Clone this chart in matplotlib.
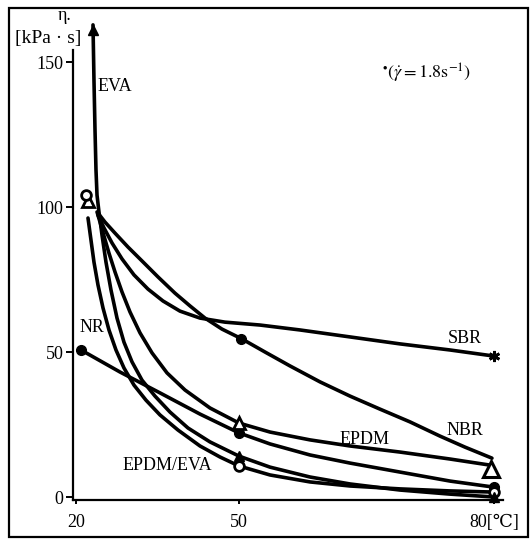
import numpy as np
import matplotlib
matplotlib.use('Agg')
import matplotlib.pyplot as plt
from matplotlib.patches import Rectangle

plt.rcParams['font.family'] = ['Liberation Serif', 'DejaVu Serif', 'Noto Sans CJK JP']
plt.rcParams['mathtext.fontset'] = 'stix'

# temperature [C] / viscosity [kPa s]
eva_T = [23.13, 23.31, 23.50, 23.68, 23.87, 24.23, 24.79, 25.52, 26.44, 27.55, 28.83, 30.31,
         32.15, 34.54, 37.30, 40.61, 44.66, 50.0, 53.65, 58.35, 63.06, 68.94, 74.82, 80.0]
eva_eta = [162.8, 143.8, 126.6, 112.8, 104.1, 98.3, 90.3, 81.0, 71.4, 61.7, 53.4, 46.6,
           40.3, 34.8, 29.3, 23.8, 19.0, 14.1, 10.3, 6.9, 4.5, 2.4, 1.0, 0.0]

epdm_eva_T = [22.21, 22.76, 23.31, 24.05, 24.97, 26.07, 27.36, 28.83, 30.67, 32.88, 35.46, 38.77,
              42.82, 46.50, 50.0, 53.65, 58.35, 63.06, 68.94, 74.82, 80.0]
epdm_eva_eta = [96.2, 88.6, 81.0, 73.1, 65.2, 57.6, 50.7, 44.5, 38.6, 33.4, 28.3, 23.1,
                17.6, 13.8, 10.7, 7.6, 5.2, 3.8, 2.8, 2.1, 1.7]

epdm_T = [23.87, 24.42, 25.15, 26.07, 27.18, 28.47, 29.94, 31.78, 33.99, 36.75, 40.06, 44.66,
          50.0, 53.65, 58.35, 63.06, 68.94, 74.82, 79.53]
epdm_eta = [98.3, 94.8, 90.0, 84.1, 77.6, 70.7, 63.8, 56.6, 49.7, 42.8, 36.9, 30.7,
            25.5, 22.4, 19.7, 17.6, 15.5, 13.1, 11.0]

nr_T = [20.92, 28.10, 35.46, 42.82, 50.0, 53.65, 58.35, 63.06, 68.94, 74.82, 80.0]
nr_eta = [50.7, 43.1, 35.9, 28.6, 22.1, 18.3, 14.5, 11.7, 8.6, 5.5, 3.4]

nbr_T = [24.05, 25.34, 27.18, 29.57, 32.15, 35.09, 38.22, 40.98, 43.74, 46.87, 50.35, 53.06,
         56.0, 59.53, 63.06, 66.59, 70.12, 73.65, 76.59, 79.76]
nbr_eta = [97.9, 94.8, 91.0, 86.2, 81.4, 75.9, 70.3, 65.9, 61.7, 57.9, 54.5, 50.0,
           45.2, 39.7, 34.8, 30.3, 25.9, 21.0, 17.2, 13.4]

sbr_T = [24.05, 25.15, 26.63, 28.47, 30.67, 33.25, 36.01, 39.14, 42.82, 47.42, 52.47, 57.18,
         63.06, 68.94, 74.82, 80.0]
sbr_eta = [97.2, 92.8, 87.6, 82.1, 76.6, 71.7, 67.6, 64.1, 61.7, 60.3, 59.3, 57.6,
           55.2, 52.8, 50.7, 48.6]

# measured points (markers)
nr_pts_T = [20.92, 50.0, 80.0]
nr_pts_eta = [50.7, 22.1, 3.4]
nbr_pts_T = [50.2]
nbr_pts_eta = [54.6]
epdm_pts_T = [22.2, 50.0]
epdm_pts_eta = [102.0, 25.5]
epdm_end_T = [79.6]
epdm_end_eta = [9.5]
epdm_eva_pts_T = [21.9, 50.0, 80.0]
epdm_eva_pts_eta = [104.0, 10.7, 1.7]
eva_pts_T = [50.0, 80.0]
eva_pts_eta = [14.1, 0.0]
sbr_pts_T = [80.0]
sbr_pts_eta = [48.6]
eva_arrow_T = [23.13]
eva_arrow_eta = [161.0]


def fwd(t):
    t = np.asarray(t, float)
    return np.where(t <= 50, (t - 20) * 163 / 30, 163 + (t - 50) * 255 / 30)


def inv(p):
    p = np.asarray(p, float)
    return np.where(p <= 163, 20 + p * 30 / 163, 50 + (p - 163) * 30 / 255)


fig = plt.figure(figsize=(5.31, 5.47), dpi=100)
ax = fig.add_axes([73 / 531, 47 / 547, 430 / 531, 481.5 / 547])
ax.set_xscale('function', functions=(fwd, inv))

lw = 2.6
kw = dict(color='black', lw=lw, solid_capstyle='round', solid_joinstyle='round')
ax.plot(eva_T, eva_eta, **kw)
ax.plot(epdm_eva_T, epdm_eva_eta, **kw)
ax.plot(epdm_T, epdm_eta, **kw)
ax.plot(nr_T, nr_eta, **kw)
ax.plot(nbr_T, nbr_eta, **kw)
ax.plot(sbr_T, sbr_eta, **kw)

ax.plot(nr_pts_T, nr_pts_eta, 'o', color='black', ms=7)
ax.plot(nbr_pts_T, nbr_pts_eta, 'o', color='black', ms=7)
ax.plot(epdm_pts_T, epdm_pts_eta, '^', mfc='white', mec='black', mew=2, ms=9)
ax.plot(epdm_end_T, epdm_end_eta, '^', mfc='white', mec='black', mew=2.2, ms=12)
ax.plot(epdm_eva_pts_T, epdm_eva_pts_eta, 'o', mfc='white', mec='black', mew=2, ms=7)
ax.plot(eva_pts_T, eva_pts_eta, '^', color='black', ms=7, clip_on=False)
ax.plot(sbr_pts_T, sbr_pts_eta, marker=(6, 2, 0), color='black', ms=8, mew=2)
ax.plot(eva_arrow_T, eva_arrow_eta, '^', color='black', ms=7, clip_on=False)

ax.set_xlim(19.45, 81.06)
ax.set_ylim(-1.03, 165)

for s in ['top', 'right']:
    ax.spines[s].set_visible(False)
ax.spines['left'].set_bounds(-1.03, 154)
ax.spines['left'].set_linewidth(1.6)
ax.spines['bottom'].set_linewidth(1.6)

ax.set_yticks([0, 50, 100, 150])
ax.set_yticklabels(['0', '50', '100', '150'])
ax.set_xticks([20, 50, 80])
ax.set_xticklabels(['20', '50', '80[℃]'])
ax.xaxis.set_minor_locator(matplotlib.ticker.NullLocator())
ax.tick_params(axis='y', direction='out', length=5, width=1.4, pad=2, labelsize=13)
ax.tick_params(axis='x', direction='out', length=3, width=1.4, pad=7, labelsize=13)

ax.text(27.18, 141.4, 'EVA', fontsize=13, ha='center', va='center')
ax.text(22.94, 58.6, 'NR', fontsize=13, ha='center', va='center')
ax.text(76.6, 54.5, 'SBR', fontsize=13, ha='center', va='center')
ax.text(76.6, 22.8, 'NBR', fontsize=13, ha='center', va='center')
ax.text(64.8, 20.0, 'EPDM', fontsize=13, ha='center', va='center')
ax.text(36.75, 11.0, 'EPDM/EVA', fontsize=13, ha='center', va='center')
ax.text(72.1, 145.9, r'$^{\bullet}(\dot{\gamma}=1.8\mathrm{s}^{-1})$', fontsize=13,
        ha='center', va='center')

fig.text(65 / 531, 1 - 16 / 547, 'η.', fontsize=13, ha='center', va='center')
fig.text(48 / 531, 1 - 38 / 547, '[kPa · s]', fontsize=14, ha='center', va='center')

fig.patches.append(Rectangle((9 / 531, 10 / 547), 519 / 531, 529 / 547,
                             transform=fig.transFigure, fill=False,
                             edgecolor='black', lw=1.6))

fig.savefig('out.png', dpi=100)
